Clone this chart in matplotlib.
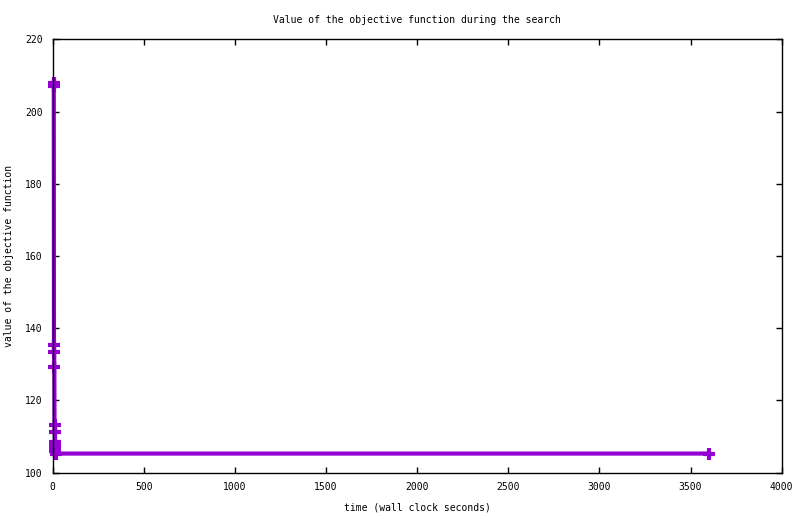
import matplotlib
matplotlib.use("Agg")
import matplotlib.pyplot as plt

# search progress: wall clock time (s) and objective value
times = [6, 7, 8, 9, 10, 11, 12, 13, 14, 15, 16, 17, 3600]
values = [207.8, 207.0, 135.3, 133.3, 129.4, 113.3, 111.2, 108.6, 107.8, 106.9, 106.0, 105.3, 105.3]

xticks = [0, 500, 1000, 1500, 2000, 2500, 3000, 3500, 4000]
yticks = [100, 120, 140, 160, 180, 200, 220]

plt.rcParams['font.family'] = ['DejaVu Sans Mono']
plt.rcParams['font.size'] = 7

fig = plt.figure(figsize=(8.0, 5.14), dpi=100)
ax = fig.add_axes([52.5 / 800, 1 - 472.7 / 514, (781.7 - 52.5) / 800, (472.7 - 39.3) / 514])

ax.plot(times, values, color='#9400d3', linewidth=3.0, marker='+',
        markersize=8, markeredgewidth=3.0, clip_on=False)

ax.set_xlim(0, 4000)
ax.set_ylim(100, 220)
ax.set_xticks(xticks)
ax.set_yticks(yticks)
ax.tick_params(direction='in', length=4, width=1, top=True, right=True, pad=7, labelsize=7)
for s in ax.spines.values():
    s.set_linewidth(1)

ax.set_title('Value of the objective function during the search', fontsize=7, pad=12)
ax.set_xlabel('time (wall clock seconds)', fontsize=7, labelpad=7)
ax.set_ylabel('value of the objective function', fontsize=7, labelpad=8)

fig.savefig('out.png', dpi=100)
